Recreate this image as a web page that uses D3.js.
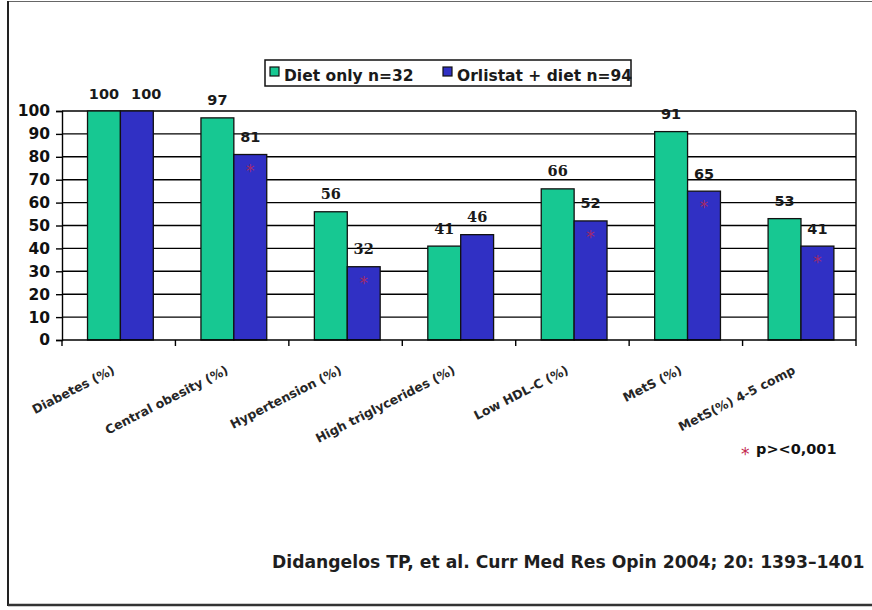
<!DOCTYPE html>
<html>
<head>
<meta charset="utf-8">
<script src="https://cdn.jsdelivr.net/npm/d3@7"></script>
<style>
  html, body { margin: 0; padding: 0; background: #fff; }
  svg { display: block; }
  text { font-family: "DejaVu Sans", Verdana, sans-serif; font-weight: bold; }
</style>
</head>
<body>
<svg id="chart" width="872" height="610"></svg>
<script>
// Prevalence of metabolic risk components by treatment group
const categories = [
  "Diabetes (%)",
  "Central obesity (%)",
  "Hypertension (%)",
  "High triglycerides (%)",
  "Low HDL-C (%)",
  "MetS (%)",
  "MetS(%) 4-5 comp"
];
const seriesNames = ["Diet only n=32", "Orlistat + diet n=94"];
const dietOnly = [100, 97, 56, 41, 66, 91, 53];
const orlistatDiet = [100, 81, 32, 46, 52, 65, 41];
// categories where the orlistat group differs significantly
const significant = [false, true, true, false, true, true, true];
const yTicks = [0, 10, 20, 30, 40, 50, 60, 70, 80, 90, 100];
const footnote = "p><0,001";
const citation = "Didangelos TP, et al. Curr Med Res Opin 2004; 20: 1393\u20131401";

const colors = ["#17c892", "#3030c4"];
// value labels typeset in a serif face
const serifLabels = new Set(["2-0", "2-1", "3-0", "3-1", "4-0"]);

const svg = d3.select("#chart");

// page frame
svg.append("line").attr("x1", 8).attr("x2", 872).attr("y1", 1.5).attr("y2", 1.5)
  .attr("stroke", "#666").attr("stroke-width", 1);
svg.append("line").attr("x1", 8).attr("x2", 8).attr("y1", 1).attr("y2", 606)
  .attr("stroke", "#222").attr("stroke-width", 2);
svg.append("line").attr("x1", 8).attr("x2", 872).attr("y1", 605).attr("y2", 605)
  .attr("stroke", "#333").attr("stroke-width", 2.5);

const plot = { left: 62, right: 856, top: 111, bottom: 340 };

const x0 = d3.scaleBand().domain(categories).range([plot.left, plot.right]).padding(0);
const bw = x0.bandwidth();
const x1 = d3.scaleBand().domain([0, 1]).range([bw * 0.225, bw * 0.805]).padding(0);
const y = d3.scaleLinear().domain([0, 100]).range([plot.bottom, plot.top]);

// horizontal gridlines
svg.append("g").selectAll("line").data(yTicks.filter(t => t > 0)).join("line")
  .attr("x1", plot.left).attr("x2", plot.right)
  .attr("y1", d => y(d)).attr("y2", d => y(d))
  .attr("stroke", "#000").attr("stroke-width", 1.4);

// right border of plot area
svg.append("line").attr("x1", plot.right).attr("x2", plot.right)
  .attr("y1", y(100)).attr("y2", y(0)).attr("stroke", "#000").attr("stroke-width", 1.4);

// bars
const rows = categories.map((c, i) => ({ c, i, vals: [dietOnly[i], orlistatDiet[i]] }));
const groups = svg.append("g").selectAll("g").data(rows).join("g")
  .attr("transform", d => `translate(${x0(d.c)},0)`);

groups.selectAll("rect").data(d => d.vals.map((v, s) => ({ v, s }))).join("rect")
  .attr("x", d => x1(d.s))
  .attr("width", x1.bandwidth())
  .attr("y", d => y(d.v))
  .attr("height", d => y(0) - y(d.v))
  .attr("fill", d => colors[d.s])
  .attr("stroke", "#111").attr("stroke-width", 1.3);

// significance markers inside the orlistat bars
groups.filter(d => significant[d.i]).append("text")
  .attr("x", x1(1) + x1.bandwidth() / 2)
  .attr("y", d => y(d.vals[1]) + 22)
  .attr("text-anchor", "middle")
  .attr("fill", "#c2284e").attr("fill-opacity", 0.8)
  .style("font-size", "17px").style("font-weight", "normal")
  .text("*");

// value labels; nudge a label right if it would touch its neighbour
groups.each(function (d) {
  const g = d3.select(this);
  let prevRight = -Infinity;
  d.vals.forEach((v, s) => {
    const serif = serifLabels.has(`${d.i}-${s}`);
    const t = g.append("text")
      .attr("x", x1(s) + x1.bandwidth() / 2)
      .attr("y", y(v) - 12.5)
      .attr("text-anchor", "middle")
      .attr("fill", "#1a1a1a")
      .style("font-family", serif ? "'DejaVu Serif', serif" : null)
      .style("font-size", "14.5px")
      .text(v);
    const b = t.node().getBBox();
    if (b.x < prevRight + 12) {
      t.attr("x", +t.attr("x") + (prevRight + 12 - b.x));
    }
    prevRight = t.node().getBBox().x + t.node().getBBox().width;
  });
});

// y axis
const yAxis = svg.append("g").attr("transform", `translate(${plot.left},0)`)
  .call(d3.axisLeft(y).tickValues(yTicks).tickSize(6).tickPadding(6));
yAxis.select(".domain").attr("stroke", "#000").attr("stroke-width", 1.4);
yAxis.selectAll(".tick line").attr("stroke", "#000").attr("stroke-width", 1.4);
yAxis.selectAll(".tick text").attr("fill", "#111")
  .style("font-family", "'DejaVu Sans', sans-serif").style("font-weight", "bold")
  .style("font-size", "15.5px");

// x axis with ticks at category boundaries
const xAxis = svg.append("g").attr("transform", `translate(0,${plot.bottom})`);
xAxis.append("line").attr("x1", plot.left).attr("x2", plot.right)
  .attr("stroke", "#000").attr("stroke-width", 1.6);
xAxis.selectAll("line.tk").data(d3.range(categories.length + 1)).join("line")
  .attr("class", "tk")
  .attr("x1", i => plot.left + i * bw).attr("x2", i => plot.left + i * bw)
  .attr("y1", 0).attr("y2", 6)
  .attr("stroke", "#000").attr("stroke-width", 1.4);
xAxis.selectAll("text").data(categories).join("text")
  .attr("transform", d => `translate(${x0(d) + bw / 2 - 3},${33}) rotate(-27)`)
  .attr("text-anchor", "end")
  .attr("fill", "#262626")
  .style("font-size", "12.5px")
  .text(d => d);

// legend
const legend = svg.append("g");
legend.append("rect").attr("x", 265).attr("y", 60).attr("width", 366).attr("height", 26)
  .attr("fill", "#fff").attr("stroke", "#111").attr("stroke-width", 1.5);
const legX = [270, 443];
seriesNames.forEach((name, s) => {
  legend.append("rect").attr("x", legX[s]).attr("y", 67).attr("width", 9).attr("height", 9)
    .attr("fill", colors[s]).attr("stroke", "#111").attr("stroke-width", 1.2);
  legend.append("text").attr("x", legX[s] + 14).attr("y", 80.5)
    .attr("fill", "#1a1a1a").style("font-size", "15.5px").text(name);
});

// footnote
svg.append("text").attr("x", 741).attr("y", 460)
  .attr("fill", "#c2284e").style("font-size", "17px").style("font-weight", "normal").text("*");
svg.append("text").attr("x", 756).attr("y", 454)
  .attr("fill", "#111").style("font-size", "14.5px").text(footnote);

// source
svg.append("text").attr("x", 272).attr("y", 568)
  .attr("fill", "#1e1e1e").style("font-size", "17.2px").text(citation);
</script>
</body>
</html>
